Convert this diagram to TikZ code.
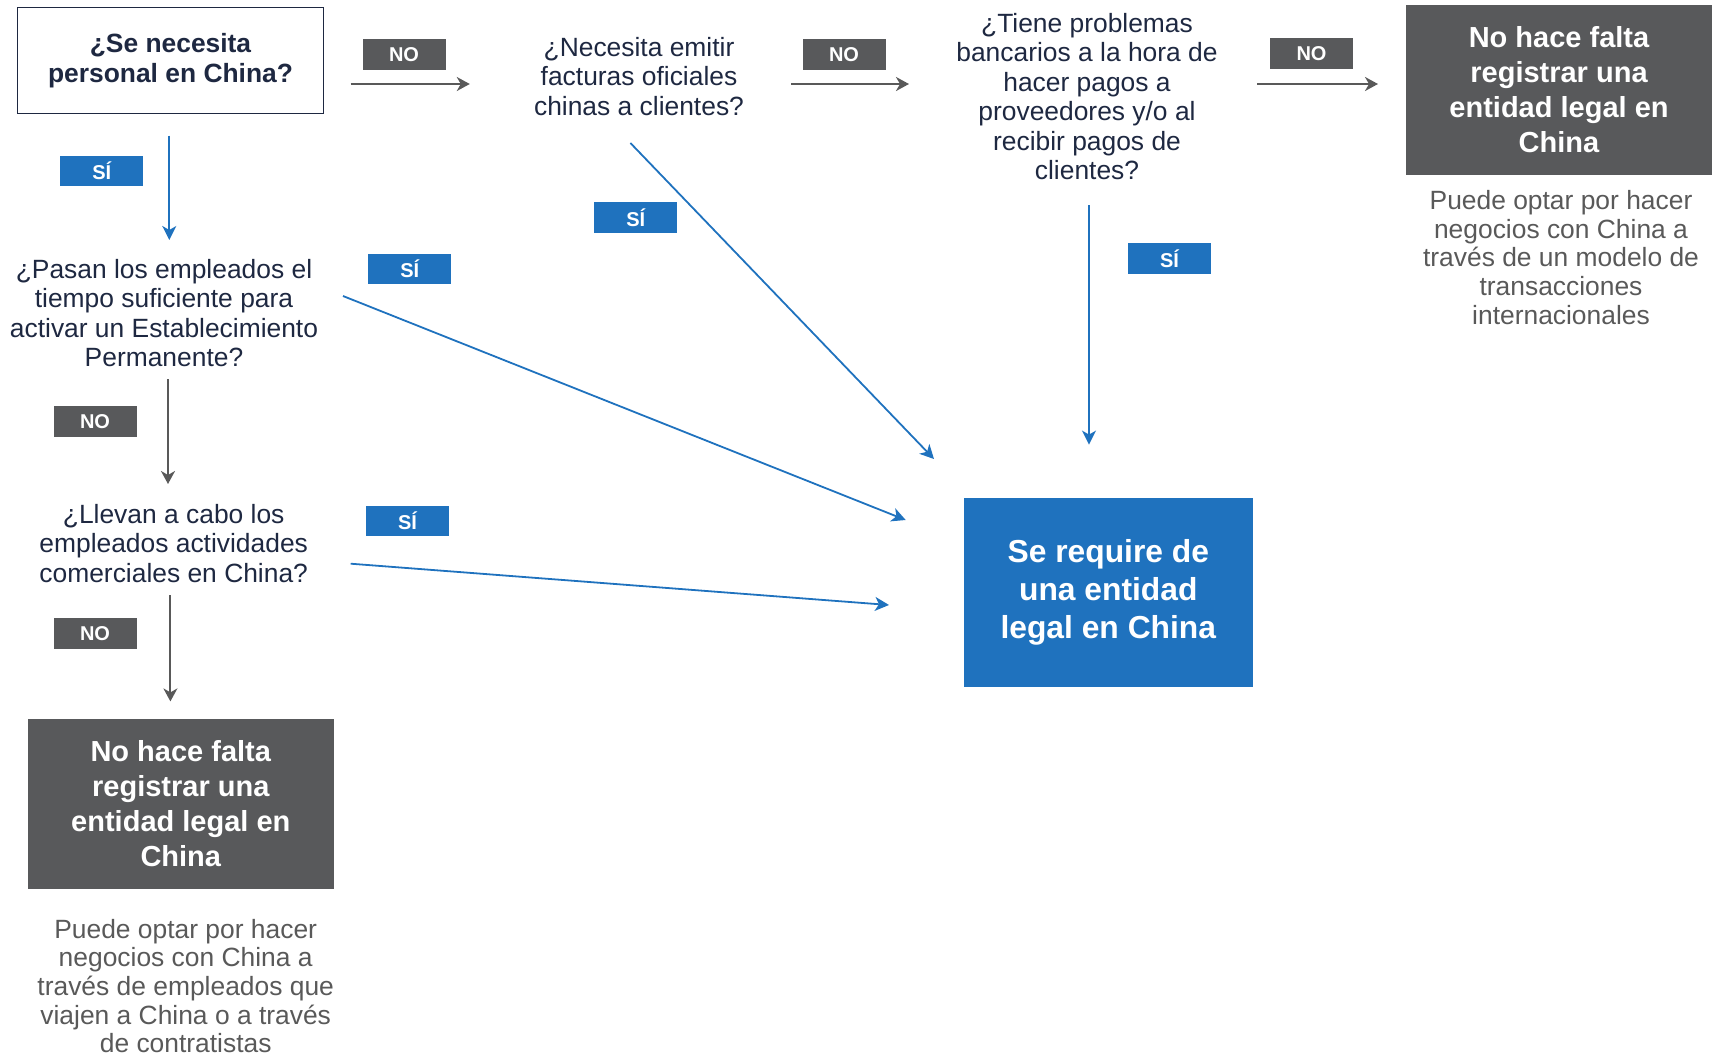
\documentclass[tikz,border=0pt]{standalone}
\usepackage{fontspec}
\setmainfont{Liberation Sans}
\usetikzlibrary{arrows.meta}

\definecolor{navy}{RGB}{30,40,65}
\definecolor{boxgray}{RGB}{88,89,91}
\definecolor{capgray}{RGB}{89,89,89}
\definecolor{corpblue}{RGB}{31,114,190}

\newcommand{\qfont}{\fontsize{13.2}{14.75}\selectfont}
\newcommand{\tagfont}{\fontsize{10}{11}\selectfont\bfseries}
\newcommand{\resfont}{\fontsize{14.5}{17.5}\selectfont\bfseries}
\newcommand{\reqfont}{\fontsize{15.9}{19}\selectfont\bfseries}
\newcommand{\capfont}{\fontsize{13.2}{14.35}\selectfont}

\tikzset{
  tagbox/.style={text=white, font=\tagfont, minimum width=41.5pt, minimum height=15.3pt, inner sep=0pt},
  notag/.style={tagbox, fill=boxgray},
  sitag/.style={tagbox, fill=corpblue},
  question/.style={align=center, text=navy, font=\qfont, inner sep=0pt},
  startbox/.style={draw=navy, line width=0.8pt, text=navy, align=center, font=\qfont\bfseries,
    minimum width=153pt, minimum height=53pt},
  resbox/.style={fill=boxgray, text=white, align=center, font=\resfont,
    minimum width=153pt, minimum height=85pt},
  reqbox/.style={fill=corpblue, text=white, align=center, font=\reqfont,
    minimum width=144.75pt, minimum height=94.5pt},
  caption/.style={align=center, text=capgray, font=\capfont, inner sep=0pt},
  grayarrow/.style={draw=capgray, line width=1pt, -{Stealth[length=6.5pt,width=7pt,inset=2pt]}},
  bluearrow/.style={draw=corpblue, line width=0.9pt, -{Stealth[length=7pt,width=7pt,inset=2pt]}}
}

\begin{document}
\begin{tikzpicture}[x=0.5pt,y=-0.5pt]
  \useasboundingbox (0,0) rectangle (1713,1055);

  % questions
  \node[startbox] (q1) at (170.5,60.6) {¿Se necesita\\personal en China?};
  \node[question] (q2) at (639,76.5) {¿Necesita emitir\\facturas oficiales\\chinas a clientes?};
  \node[question] (q3) at (1087,96.7) {¿Tiene problemas\\bancarios a la hora de\\hacer pagos a\\proveedores y/o al\\recibir pagos de\\clientes?};
  \node[question] (q4) at (164,313) {¿Pasan los empleados el\\tiempo suficiente para\\activar un Establecimiento\\Permanente?};
  \node[question] (q5) at (173.7,543.5) {¿Llevan a cabo los\\empleados actividades\\comerciales en China?};

  % results
  \node[resbox] (endtr) at (1559,89.6) {No hace falta\\registrar una\\entidad legal en\\China};
  \node[caption] (captr) at (1561,257.4) {Puede optar por hacer\\negocios con China a\\través de un modelo de\\transacciones\\internacionales};
  \node[resbox] (endbl) at (180.8,803.6) {No hace falta\\registrar una\\entidad legal en\\China};
  \node[caption] (capbl) at (185.7,986) {Puede optar por hacer\\negocios con China a\\través de empleados que\\viajen a China o a través\\de contratistas};
  \node[reqbox] (req) at (1108.3,592.7) {Se require de\\una entidad\\legal en China};

  % answer tags
  \node[notag] (no1) at (404,54.6) {NO};
  \node[notag] (no2) at (844,54.6) {NO};
  \node[notag] (no3) at (1311.5,53.5) {NO};
  \node[notag] (no4) at (95,421.7) {NO};
  \node[notag] (no5) at (95,633.6) {NO};
  \node[sitag] (si1) at (101.7,171) {SÍ};
  \node[sitag] (si2) at (409.7,268.8) {SÍ};
  \node[sitag] (si3) at (635.7,217.4) {SÍ};
  \node[sitag] (si4) at (1169.5,258.4) {SÍ};
  \node[sitag] (si5) at (407.6,521) {SÍ};

  % connector ends
  \coordinate (a1s) at (350.7,84);   \coordinate (a1e) at (469.8,84);
  \coordinate (a2s) at (791,84);     \coordinate (a2e) at (909,84);
  \coordinate (a3s) at (1257,84);    \coordinate (a3e) at (1378,84);
  \coordinate (d1s) at (169.3,135.5); \coordinate (d1e) at (169.3,240);
  \coordinate (d2s) at (168,379);    \coordinate (d2e) at (168,484);
  \coordinate (d3s) at (170.4,595);  \coordinate (d3e) at (170.4,701.4);
  \coordinate (b1s) at (630.4,143);  \coordinate (b1e) at (934,459);
  \coordinate (b2s) at (1089,205);   \coordinate (b2e) at (1089,444.6);
  \coordinate (b3s) at (343,296);    \coordinate (b3e) at (905.7,520);
  \coordinate (b4s) at (350.7,563.7); \coordinate (b4e) at (889,605);

  \draw[grayarrow] (a1s) -- (a1e);
  \draw[grayarrow] (a2s) -- (a2e);
  \draw[grayarrow] (a3s) -- (a3e);
  \draw[bluearrow] (d1s) -- (d1e);
  \draw[grayarrow] (d2s) -- (d2e);
  \draw[grayarrow] (d3s) -- (d3e);
  \draw[bluearrow] (b1s) -- (b1e);
  \draw[bluearrow] (b2s) -- (b2e);
  \draw[bluearrow] (b3s) -- (b3e);
  \draw[bluearrow] (b4s) -- (b4e);
\end{tikzpicture}
\end{document}
